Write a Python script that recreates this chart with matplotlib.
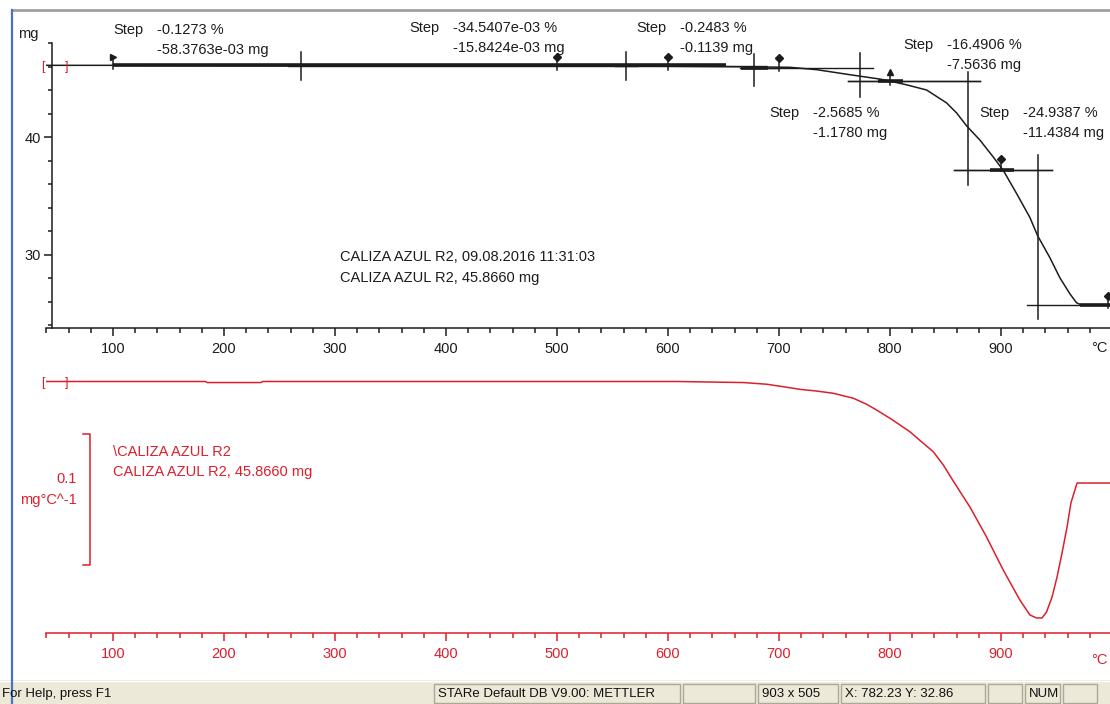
#!/usr/bin/env python3

import matplotlib
matplotlib.use('Agg')
import matplotlib.pyplot as plt
import numpy as np
from matplotlib.patches import Rectangle
from matplotlib.lines import Line2D

plt.rcParams['font.family'] = ['Liberation Sans', 'DejaVu Sans']

W, H = 1110, 704
RED = '#dc1f2c'
INK = '#1c1c1c'
FONT = 10.5

# TG curve (mg against furnace temperature, deg C)
tg_temp = [40, 100, 270, 500, 562, 600, 678, 710, 734, 764, 791, 800, 815,
           833, 851, 860, 869, 881, 893, 902, 914, 926, 933, 944, 953, 962,
           968, 972, 1000]
tg_mass = [46.10, 46.10, 46.07, 46.04, 46.03, 46.02, 45.97, 45.93, 45.73,
           45.30, 44.93, 44.76, 44.44, 44.00, 42.90, 42.05, 40.95, 39.74,
           38.30, 37.17, 35.20, 33.16, 31.60, 29.74, 28.03, 26.67, 25.90,
           25.73, 25.73]

# first derivative (mg/deg C)
dtg_temp = [37, 183, 185, 233, 235, 608, 668, 689, 704, 719, 734, 749, 767,
            779, 788, 800, 809, 818, 827, 839, 848, 857, 866, 872, 887, 902,
            917, 926, 932, 937, 941, 946, 950.5, 955, 959.5, 963, 968.5, 1000]
dtg_vals = [0.0, 0.0, -0.0008, -0.0008, 0.0, 0.0, -0.0008, -0.0021, -0.0040,
            -0.0060, -0.0073, -0.0090, -0.0128, -0.0174, -0.0218, -0.0281,
            -0.0332, -0.0384, -0.0450, -0.0536, -0.0637, -0.0760, -0.0879,
            -0.0958, -0.1187, -0.1439, -0.1668, -0.1782, -0.1805, -0.1805,
            -0.1760, -0.1645, -0.1492, -0.1309, -0.1111, -0.0927, -0.0775,
            -0.0775]

# step evaluation results
step_pct = [-0.1273, -34.5407e-03, -0.2483, -2.5685, -16.4906, -24.9387]
step_mg = [-58.3763e-03, -15.8424e-03, -0.1139, -1.1780, -7.5636, -11.4384]
step_mid = [269, 562, 677.5, 773, 870, 933]
step_vtop = [47.26, 47.26, 47.09, 47.18, 45.56, 38.46]
step_vbot = [44.87, 44.87, 44.36, 43.42, 35.90, 24.53]
tan_up = [(100, 280), (500, 572), (600, 688), (665, 785), (762, 881), (858, 946)]
tan_lo = [(258, 500), (552, 600), (667, 700), (762, 881), (858, 946), (923, 1000)]
limits = [100, 500, 600, 700, 800, 900, 996]
limit_marks = ['>', 'D', 'D', 'D', '^', 'D', 'D']
base_start = [100, 666, 789, 890, 971]
base_end = [652, 690, 812, 912, 1000]
base_level = [0, 3, 4, 5, 6]

dtg_scale = 0.1
x_major = list(range(100, 1000, 100))
x_minor = list(range(40, 1000, 20))

status_cells = [
    (434, 680, 'STARe Default DB V9.00: METTLER'),
    (683, 755, ''),
    (758, 838, '903 x 505'),
    (841, 985, 'X: 782.23 Y: 32.86'),
    (988, 1022, ''),
    (1025, 1060, 'NUM'),
    (1063, 1097, ''),
]


def px(x, y):
    return x / W, 1 - y / H


def t_of(x):
    return (x - 2) / 1.11


def fmt(v):
    if abs(v) < 0.1:
        return f'{v * 1e3:.4f}e-03'
    return f'{v:.4f}'


fig = plt.figure(figsize=(W / 100, H / 100), dpi=100)

# --- TG panel ---
ax = fig.add_axes([46 / W, 1 - 328 / H, (W - 46) / W, (328 - 43) / H])
ax.patch.set_alpha(0)
ax.set_xlim(t_of(46), t_of(W))
ax.set_ylim(23.75, 48)
for s in ('top', 'right'):
    ax.spines[s].set_visible(False)
ax.spines['left'].set_position(('data', 45))
for s in ('left', 'bottom'):
    ax.spines[s].set_color(INK)
    ax.spines[s].set_linewidth(1.1)
ax.set_xticks(x_major)
ax.set_xticks(x_minor, minor=True)
ax.set_yticks([30, 40])
ax.set_yticks(np.arange(24, 49, 2), minor=True)
ax.tick_params(axis='x', which='major', length=6, width=1.1, pad=4,
               labelsize=FONT, colors=INK)
ax.tick_params(axis='x', which='minor', length=3.6, width=1.1, colors=INK)
ax.tick_params(axis='y', which='major', length=6, width=1.1, pad=2,
               labelsize=FONT, colors=INK)
ax.tick_params(axis='y', which='minor', length=3, width=1.1, colors=INK)

ax.plot(tg_temp, tg_mass, color=INK, lw=1.1, zorder=3)

levels = tg_mass[0] - np.concatenate([[0], np.cumsum(np.abs(step_mg))])
for i in range(len(step_mg)):
    ax.plot(tan_up[i], [levels[i]] * 2, color=INK, lw=1.0, zorder=3)
    ax.plot(tan_lo[i], [levels[i + 1]] * 2, color=INK, lw=1.0, zorder=3)
    ax.plot([step_mid[i]] * 2, [step_vbot[i], step_vtop[i]], color=INK,
            lw=1.1, zorder=3, clip_on=False)
for a, b, k in zip(base_start, base_end, base_level):
    ax.plot([a, b], [levels[k]] * 2, color=INK, lw=2.6, zorder=3,
            solid_capstyle='butt')
for t, m in zip(limits, limit_marks):
    y = np.interp(t, tg_temp, tg_mass)
    ax.plot([t, t], [y - 0.3, y + 0.75], color=INK, lw=1.1, zorder=4)
    ax.plot([t], [y + 0.75], marker=m, ms=4.5, color=INK, zorder=4,
            clip_on=False)

for t in (37, 58.6):
    ax.text(t, levels[0] - 0.15, '[' if t < 50 else ']', color=RED,
            fontsize=9, ha='center', va='center', zorder=5)

label_pos = [(113, 30), (409, 28), (636, 28), (769, 113), (903, 45), (979, 113)]
for (x, y), p, m in zip(label_pos, step_pct, step_mg):
    fig.text(*px(x, y), 'Step', fontsize=FONT, color=INK, va='center')
    fig.text(*px(x + 44, y), f'{fmt(p)} %', fontsize=FONT, color=INK, va='center')
    fig.text(*px(x + 44, y + 20), f'{fmt(m)} mg', fontsize=FONT, color=INK,
             va='center')

fig.text(*px(340, 257), 'CALIZA AZUL R2, 09.08.2016 11:31:03',
         fontsize=FONT, color=INK, va='center')
fig.text(*px(340, 278), 'CALIZA AZUL R2, 45.8660 mg',
         fontsize=FONT, color=INK, va='center')
fig.text(*px(18, 34), 'mg', fontsize=FONT, color=INK, va='center')
fig.text(*px(1091, 348), '°C', fontsize=FONT, color=INK, va='center')

# --- DTG panel ---
bx = fig.add_axes([46 / W, 1 - 633 / H, (W - 46) / W, (633 - 340) / H])
bx.patch.set_alpha(0)
bx.set_xlim(t_of(46), t_of(W))
bx.set_ylim(-(633 - 381.5) / 1310, (381.5 - 340) / 1310)
for s in ('top', 'right', 'left'):
    bx.spines[s].set_visible(False)
bx.spines['bottom'].set_color(RED)
bx.spines['bottom'].set_linewidth(1.1)
bx.set_yticks([])
bx.set_xticks(x_major)
bx.set_xticks(x_minor, minor=True)
bx.tick_params(axis='x', which='major', length=6, width=1.1, pad=4,
               labelsize=FONT, colors=RED)
bx.tick_params(axis='x', which='minor', length=3.6, width=1.1, colors=RED)

bx.plot(dtg_temp, dtg_vals, color=RED, lw=1.1, zorder=3)
for t in (37, 58.6):
    bx.text(t, -0.0012, '[' if t < 50 else ']', color=RED,
            fontsize=9, ha='center', va='center', zorder=5)

# scale bar for the derivative
sx = t_of(90)
top = -(434 - 381.5) / 1310
bx.plot([sx - 6, sx, sx, sx - 6], [top, top, top - dtg_scale, top - dtg_scale],
        color=RED, lw=1.1, clip_on=False)
fig.text(*px(77, 479), f'{dtg_scale:g}', fontsize=FONT, color=RED,
         ha='right', va='center')
fig.text(*px(77, 500), 'mg°C^-1', fontsize=FONT, color=RED,
         ha='right', va='center')
fig.text(*px(113, 452), '\\CALIZA AZUL R2', fontsize=FONT, color=RED, va='center')
fig.text(*px(113, 472), 'CALIZA AZUL R2, 45.8660 mg', fontsize=FONT,
         color=RED, va='center')
fig.text(*px(1091, 660), '°C', fontsize=FONT, color=RED, va='center')

# --- window frame and status bar ---
tf = fig.transFigure
fig.add_artist(Rectangle(px(0, 704), 1, 24 / H, transform=tf,
                         facecolor='#ece9d8', edgecolor='none', zorder=10))
fig.add_artist(Line2D([0, 1], [1 - 680.5 / H] * 2, transform=tf,
                      color='#ffffff', lw=1, zorder=11))
for x0, x1, label in status_cells:
    fig.add_artist(Rectangle(px(x0, 703), (x1 - x0) / W, 19 / H, transform=tf,
                             facecolor='none', edgecolor='#aca899', lw=1,
                             zorder=11))
    if label:
        fig.text(*px(x0 + 4, 694), label, fontsize=9.5, color='#111111',
                 va='center', zorder=12)
fig.text(*px(2, 694), 'For Help, press F1', fontsize=9.5, color='#111111',
         va='center', zorder=12)
fig.add_artist(Line2D([12 / W, 1], [1 - 10 / H] * 2, transform=tf,
                      color='#a0a0a0', lw=2, zorder=11))
fig.add_artist(Line2D([12 / W] * 2, [0, 1 - 10 / H], transform=tf,
                      color='#4a72c4', lw=1.6, zorder=11))

fig.savefig('out.png', dpi=100)
